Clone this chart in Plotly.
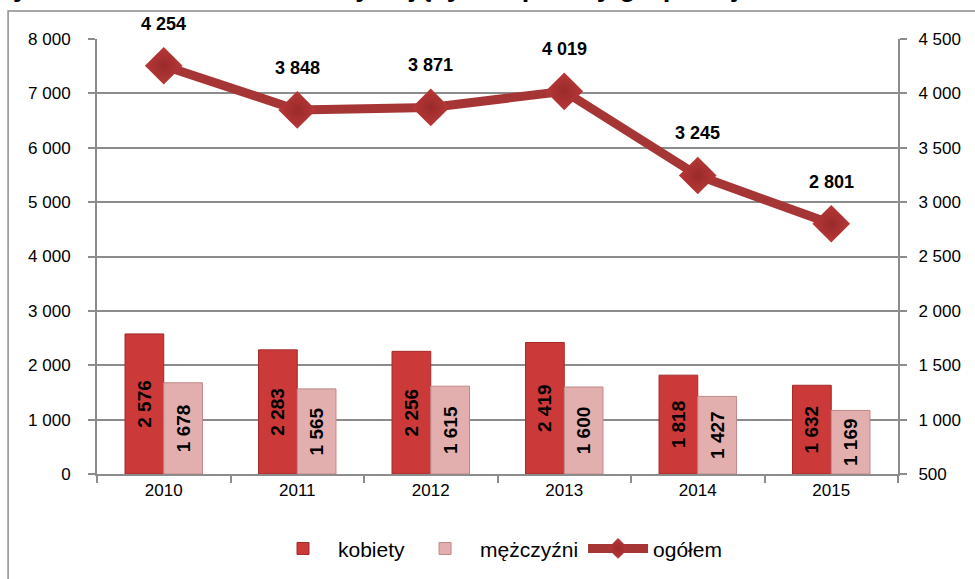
import plotly.graph_objects as go

years = ["2010", "2011", "2012", "2013", "2014", "2015"]
kobiety = [2576, 2283, 2256, 2419, 1818, 1632]
mezczyzni = [1678, 1565, 1615, 1600, 1427, 1169]
ogolem = [4254, 3848, 3871, 4019, 3245, 2801]

title_text = "Wykres 10. Liczba osób korzystających z porady grupowej w latach 2010-2015"

FONT = "Liberation Sans, Arial, sans-serif"
GRID = "#8c8c8c"

fig = go.Figure()
fig.add_trace(go.Bar(
    x=years, y=kobiety, name="kobiety",
    marker=dict(color="#CB3939", line=dict(color="#A52A2A", width=1)),
    texttemplate="<b>%{y:,}</b>", textposition="inside", insidetextanchor="middle",
    textangle=-90, constraintext="none",
    insidetextfont=dict(family=FONT, size=19, color="black"),
))
fig.add_trace(go.Bar(
    x=years, y=mezczyzni, name="mężczyźni",
    marker=dict(color="#E3AEAE", line=dict(color="#C08888", width=1)),
    texttemplate="<b>%{y:,}</b>", textposition="inside", insidetextanchor="middle",
    textangle=-90, constraintext="none",
    insidetextfont=dict(family=FONT, size=19, color="black"),
))
fig.add_trace(go.Scatter(
    x=years, y=ogolem, name="ogółem", yaxis="y2", mode="lines+markers",
    line=dict(color="#A63535", width=9),
    marker=dict(symbol="diamond", size=29, color="#B83838",
                gradient=dict(type="radial", color="#9A2A2A"),
                line=dict(width=0)),
))

for i, yv in enumerate(ogolem):
    fig.add_annotation(x=i, xref="x", y=yv, yref="y2",
                       text="<b>" + f"{yv:,}".replace(",", " ") + "</b>",
                       showarrow=False, yshift=42,
                       font=dict(family=FONT, size=18, color="black"))

# cut-off title at the top (only its lower part shows, as in the reference)
fig.add_annotation(xref="paper", yref="paper", x=0.49, y=1.081, yanchor="bottom",
                   xanchor="center", text=f"<b>{title_text}</b>", showarrow=False,
                   font=dict(family=FONT, size=27, color="black"))

# outer chart frame
fig.add_shape(type="rect", xref="paper", yref="paper",
              x0=-0.111, y0=1.0644, x1=1.3, y1=-0.5,
              line=dict(color="#8c8c8c", width=1.5), fillcolor="rgba(0,0,0,0)", layer="below")

fig.update_layout(
    width=975, height=579,
    margin=dict(l=97, r=77, t=39, b=105, autoexpand=False),
    paper_bgcolor="white", plot_bgcolor="white",
    separators=", ",
    font=dict(family=FONT, size=17, color="black"),
    barmode="group", bargap=0.42, bargroupgap=0,
    showlegend=True,
    legend=dict(orientation="h", x=0.5, xanchor="center", y=-0.172, yanchor="middle",
                font=dict(family=FONT, size=21), traceorder="normal", itemwidth=60),
    xaxis=dict(type="category", range=[-0.5, 5.5], autorange=False,
               showline=True, linecolor=GRID, linewidth=2,
               ticks="outside", tickson="boundaries", ticklen=7, tickcolor=GRID, tickwidth=2,
               showgrid=False, tickfont=dict(size=17), tickangle=0),
    yaxis=dict(range=[0, 8000], dtick=1000, tickformat=",d", showgrid=True,
               gridcolor=GRID, gridwidth=1.5, showline=True, linecolor=GRID, linewidth=2,
               ticks="outside", ticklen=7, tickcolor=GRID, tickwidth=2,
               tickfont=dict(size=17), ticklabelstandoff=14, zeroline=False),
    yaxis2=dict(range=[500, 4500], dtick=500, tickformat=",d", overlaying="y", side="right",
                showgrid=False, showline=True, linecolor=GRID, linewidth=2,
                ticks="outside", ticklen=7, tickcolor=GRID, tickwidth=2,
                tickfont=dict(size=17), ticklabelstandoff=8, zeroline=False),
)

fig.write_html("out.html", config={"displayModeBar": False},
               post_script="document.body.style.margin='0';document.body.style.overflow='hidden';")
